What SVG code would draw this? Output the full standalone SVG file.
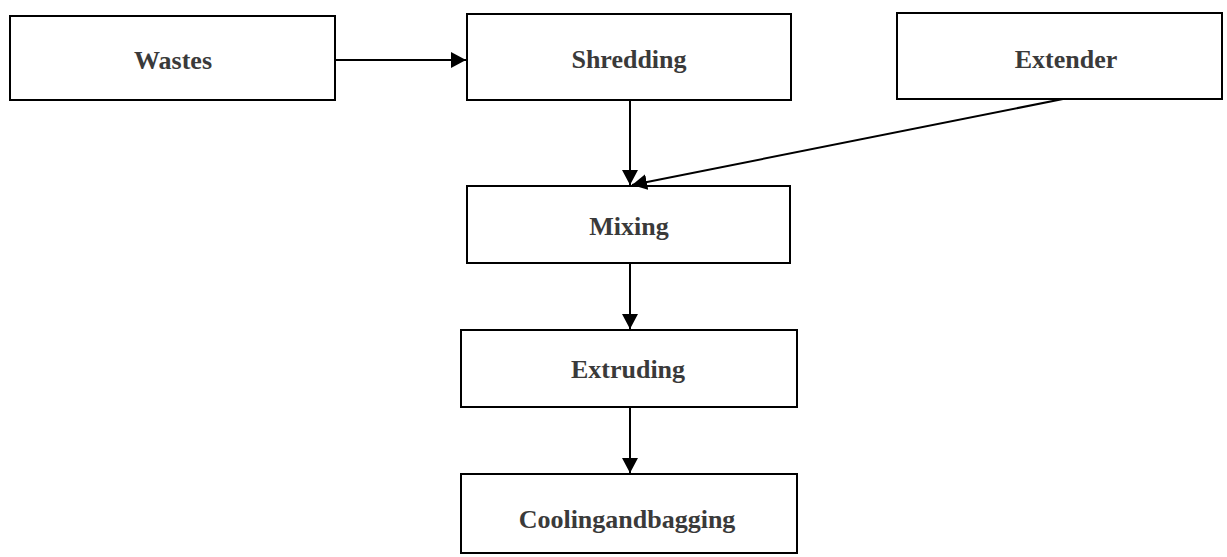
<svg xmlns="http://www.w3.org/2000/svg" width="1227" height="557" viewBox="0 0 1227 557">
<style>
.box{fill:#fff;stroke:#000;stroke-width:2}
.lbl{font-family:"Liberation Serif","Times New Roman",serif;font-weight:bold;font-size:26px;fill:#3a3a3a;text-anchor:middle}
.con{stroke:#000;stroke-width:2;fill:none;marker-end:url(#ah)}
</style>
<defs>
<marker id="ah" markerWidth="15" markerHeight="16" refX="15" refY="8" orient="auto" markerUnits="userSpaceOnUse">
<path d="M0,0 L15,8 L0,16 z" fill="#000"/>
</marker>
</defs>
<g id="wastes"><rect class="box" x="10" y="16" width="325" height="84"/><text class="lbl" x="173" y="69">Wastes</text></g>
<g id="shredding"><rect class="box" x="467" y="14" width="324" height="86"/><text class="lbl" x="629" y="68">Shredding</text></g>
<g id="extender"><rect class="box" x="897" y="13" width="325" height="86"/><text class="lbl" x="1066" y="68">Extender</text></g>
<g id="mixing"><rect class="box" x="467" y="186" width="323" height="77"/><text class="lbl" x="629" y="235">Mixing</text></g>
<g id="extruding"><rect class="box" x="461" y="330" width="336" height="77"/><text class="lbl" x="628" y="378">Extruding</text></g>
<g id="cooling"><rect class="box" x="461" y="474" width="336" height="79"/><text class="lbl" x="627" y="528">Coolingandbagging</text></g>
<g id="connectors">
<line class="con" x1="336" y1="60" x2="466" y2="60"/>
<line class="con" x1="630" y1="101" x2="630" y2="185"/>
<line class="con" x1="1063" y1="99" x2="632" y2="185"/>
<line class="con" x1="630" y1="264" x2="630" y2="329"/>
<line class="con" x1="630" y1="408" x2="630" y2="473"/>
</g>
</svg>
